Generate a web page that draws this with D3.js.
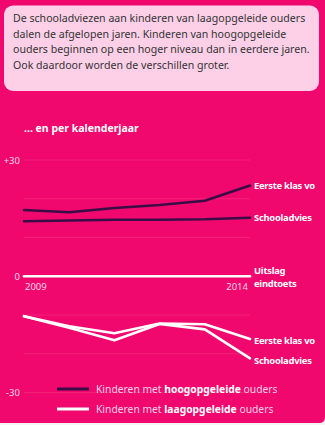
<!DOCTYPE html>
<html><head><meta charset="utf-8">
<script src="https://cdn.jsdelivr.net/npm/d3@7"></script>
<style>
html,body{margin:0;padding:0;background:#f4f4f4;}
svg{display:block;font-family:"Noto Sans","Open Sans",sans-serif;}
</style></head>
<body>
<svg id="chart" width="325" height="425"></svg>
<script>
const years = [2009, 2010, 2011, 2012, 2013, 2014];
const hoogEersteKlas = [17.1, 16.5, 17.6, 18.4, 19.5, 23.4];
const hoogSchooladvies = [14.2, 14.4, 14.6, 14.6, 14.7, 15.1];
const laagEersteKlas = [-10.3, -12.9, -14.7, -12.2, -12.4, -16.2];
const laagSchooladvies = [-10.3, -13.3, -16.5, -12.3, -13.7, -21.2];
const eindtoets = [0, 0, 0, 0, 0, 0];
const gridTicks = [30, 20, 10, 0, -10, -20, -30];
const tickLabels = ["+30", "0", "-30"];
const tickLabelValues = [30, 0, -30];
const yearLabels = ["2009", "2014"];
const introLines = [
  "De schooladviezen aan kinderen van laagopgeleide ouders",
  "dalen de afgelopen jaren. Kinderen van hoogopgeleide",
  "ouders beginnen op een hoger niveau dan in eerdere jaren.",
  "Ook daardoor worden de verschillen groter."
];

const bg = "#f0086f", dark = "#3b0d47", pale = "#fbcfe6", tickCol = "#fcd3e8";
const svg = d3.select("#chart");
// card
svg.append("path")
  .attr("d", "M0,0 H325 V417 Q325,423 319,423 H0 Z")
  .attr("fill", bg);
// intro box
svg.append("rect").attr("x", 4).attr("y", 5.5).attr("width", 315).attr("height", 85.5)
  .attr("rx", 9).attr("fill", "#fdd0e8");
svg.append("g").selectAll("text").data(introLines).join("text")
  .attr("x", 13).attr("y", (d, i) => 22 + i * 15.7)
  .attr("font-size", 10.6).attr("fill", "#333").text(d => d);

svg.append("text").attr("x", 24).attr("y", 132).attr("font-size", 10.5)
  .attr("font-weight", "bold").attr("fill", "#fff").text("... en per kalenderjaar");

const x = d3.scaleLinear().domain([2009, 2014]).range([24, 250]);
const y = d3.scaleLinear().domain([-30, 30]).range([392.5, 160]);

// gridlines
svg.append("g").selectAll("line").data(gridTicks.filter(d => d !== 0)).join("line")
  .attr("x1", 24).attr("x2", 250).attr("y1", d => y(d)).attr("y2", d => y(d))
  .attr("stroke", "#f42179").attr("stroke-width", 1);

// tick labels
svg.append("g").selectAll("text").data(tickLabelValues).join("text")
  .attr("x", 20).attr("y", d => y(d) + 3.5).attr("text-anchor", "end")
  .attr("font-size", 9.5).attr("fill", tickCol).text((d, i) => tickLabels[i]);

svg.append("g").selectAll("text").data(yearLabels).join("text")
  .attr("x", (d, i) => i === 0 ? x(+d) + 1 : x(+d) - 2)
  .attr("y", y(0) + 14).attr("text-anchor", (d, i) => i === 0 ? "start" : "end")
  .attr("font-size", 9.5).attr("fill", tickCol).text(d => d);

const line = d3.line().x((d, i) => x(years[i])).y(d => y(d));
function drawLine(vals, col) {
  svg.append("path").datum(vals).attr("d", line).attr("fill", "none")
    .attr("stroke", col).attr("stroke-width", 2.6).attr("stroke-linejoin", "round")
    .attr("stroke-linecap", "round");
}
drawLine(eindtoets, "#fff");
drawLine(hoogSchooladvies, dark);
drawLine(hoogEersteKlas, dark);
drawLine(laagEersteKlas, "#fff");
drawLine(laagSchooladvies, "#fff");

function endLabel(val, txt, dy) {
  svg.append("text").attr("x", 254).attr("y", y(val) + (dy || 0) + 3.5)
    .attr("font-size", 9.4).attr("letter-spacing", -0.25)
    .attr("font-weight", "bold").attr("fill", "#fff").text(txt);
}
endLabel(hoogEersteKlas[5], "Eerste klas vo");
endLabel(hoogSchooladvies[5], "Schooladvies");
endLabel(laagEersteKlas[5], "Eerste klas vo", 1);
endLabel(laagSchooladvies[5], "Schooladvies", 2);
endLabel(0, "Uitslag", -6);
endLabel(0, "eindtoets", 7);

// legend
const legend = [
  {col: dark, bold: "hoogopgeleide", y: 389},
  {col: "#fff", bold: "laagopgeleide", y: 409}
];
legend.forEach(l => {
  svg.append("line").attr("x1", 57).attr("x2", 89).attr("y1", l.y).attr("y2", l.y)
    .attr("stroke", l.col).attr("stroke-width", 3);
  const t = svg.append("text").attr("x", 96).attr("y", l.y + 3.5)
    .attr("font-size", 10.3).attr("fill", pale);
  t.append("tspan").text("Kinderen met ");
  t.append("tspan").attr("font-weight", "bold").attr("fill", "#fff").text(l.bold);
  t.append("tspan").text(" ouders");
});
</script>
</body></html>
